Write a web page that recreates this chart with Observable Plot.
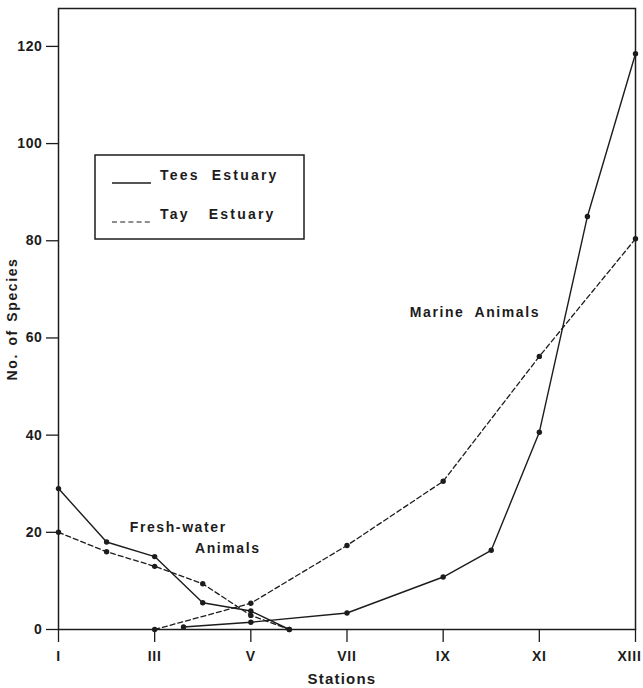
<!DOCTYPE html>
<html><head><meta charset="utf-8">
<script src="https://cdn.jsdelivr.net/npm/d3@7"></script>
<script src="https://cdn.jsdelivr.net/npm/@observablehq/plot@0.6"></script>
<style>
body{margin:0;background:#fff;}
#wrap{position:relative;width:643px;height:688px;}
#wrap svg{display:block;}
#legend{position:absolute;left:0;top:0;pointer-events:none;}
</style></head><body><div id="wrap"></div>
<script>
// ---- data ----
const stationTicks = [1, 3, 5, 7, 9, 11, 13];
const stationLabels = ["I", "III", "V", "VII", "IX", "XI", "XIII"];
const yTicks = [0, 20, 40, 60, 80, 100, 120];
const seriesNames = ["Tees Estuary", "Tay Estuary"];

const teesFreshStations = [1, 2, 3, 4, 5, 5.8];
const teesFreshValues   = [29, 18, 15, 5.5, 3.8, 0];
const tayFreshStations  = [1, 2, 3, 4, 5, 5.8];
const tayFreshValues    = [20, 16, 13, 9.4, 2.9, 0];
const teesMarineStations = [3.6, 5, 7, 9, 10, 11, 12, 13];
const teesMarineValues   = [0.5, 1.5, 3.4, 10.8, 16.3, 40.6, 85, 118.5];
const tayMarineStations  = [3, 5, 7, 9, 11, 13];
const tayMarineValues    = [0, 5.4, 17.3, 30.5, 56.2, 80.4];

const notes = [
  {station: 3.49, value: 21.0, label: "Fresh-water"},
  {station: 4.52, value: 16.7, label: "Animals"},
  {station: 9.66, value: 65.3, label: "Marine Animals"}
];

// ---- build rows ----
function rows(stations, values, series, group) {
  return stations.map((s, i) => ({station: s, value: values[i], series, group}));
}
const tees = [
  ...rows(teesFreshStations, teesFreshValues, seriesNames[0], "fresh"),
  ...rows(teesMarineStations, teesMarineValues, seriesNames[0], "marine")
];
const tay = [
  ...rows(tayFreshStations, tayFreshValues, seriesNames[1], "fresh"),
  ...rows(tayMarineStations, tayMarineValues, seriesNames[1], "marine")
];

const ink = "#1c1c1c";
const font = "'Liberation Sans', Arial, sans-serif";

const chart = Plot.plot({
  width: 643,
  height: 688,
  marginLeft: 58,
  marginRight: 8,
  marginTop: 8,
  marginBottom: 59,
  style: {fontFamily: font, fontSize: "14px", fontWeight: "bold", color: ink, background: "#fff"},
  x: {domain: [1, 13]},
  y: {domain: [0, 127.8]},
  marks: [
    Plot.frame({stroke: ink, strokeWidth: 1.5}),
    Plot.axisX(stationTicks, {tickSize: 13, tickPadding: 9, strokeWidth: 1.3,
      tickFormat: d => stationLabels[stationTicks.indexOf(d)], label: null}),
    Plot.axisY(yTicks, {tickSize: 12, tickPadding: 4, strokeWidth: 1.3, label: null}),
    Plot.line(tees, {x: "station", y: "value", z: "group", stroke: ink, strokeWidth: 1.4}),
    Plot.line(tay, {x: "station", y: "value", z: "group", stroke: ink, strokeWidth: 1.3, strokeDasharray: "5,3"}),
    Plot.dot([...tees, ...tay], {x: "station", y: "value", r: 2.7, fill: ink}),
    Plot.text(notes, {x: "station", y: "value", text: "label", fill: ink, fontSize: 14}),
    Plot.text(["Stations"], {frameAnchor: "bottom", dx: -5, dy: 50, lineAnchor: "middle", textAnchor: "middle", text: d => d, fill: ink, fontSize: 15}),
    Plot.text(["No. of Species"], {frameAnchor: "left", dx: -46, rotate: -90, textAnchor: "middle", lineAnchor: "middle", text: d => d, fill: ink, fontSize: 14})
  ]
});
document.getElementById("wrap").appendChild(chart);

// letter spacing of the lettering (typewriter-like spacing in the original)
const textGroups = d3.select(chart).selectAll('g[aria-label="text"]').nodes();
d3.select(textGroups[0]).selectAll("text").style("letter-spacing", "1.6px").style("word-spacing", "5px");
d3.select(textGroups[1]).selectAll("text").style("letter-spacing", "1.2px");
d3.select(textGroups[2]).selectAll("text").style("letter-spacing", "1.6px").style("word-spacing", "2px");
d3.select(chart).selectAll('g[aria-label="y-axis tick label"] text').style("letter-spacing", "0.6px");
d3.select(chart).selectAll('g[aria-label="x-axis tick label"] text').style("letter-spacing", "0.8px");
// keep the last roman numeral inside the picture
const xLabels = d3.select(chart).selectAll('g[aria-label="x-axis tick label"] text').nodes();
if (xLabels.length) d3.select(xLabels[xLabels.length - 1]).attr("dx", -6);

// ---- legend overlay ----
const lg = d3.select("#wrap").append("svg").attr("id", "legend")
  .attr("width", 643).attr("height", 688)
  .style("font-family", font).style("font-weight", "bold").style("font-size", "14px");
lg.append("rect").attr("x", 95).attr("y", 155).attr("width", 209).attr("height", 84)
  .attr("fill", "#fff").attr("stroke", ink).attr("stroke-width", 1.5);
const entries = [
  {name: seriesNames[0], dash: null, y: 183, ws: "6px"},
  {name: seriesNames[1], dash: "5,3.2", y: 222, ws: "13px"}
];
entries.forEach(e => {
  const ln = lg.append("line").attr("x1", 112).attr("x2", 151).attr("y1", e.y).attr("y2", e.y)
    .attr("stroke", ink).attr("stroke-width", e.dash ? 1 : 1.5);
  if (e.dash) ln.attr("stroke-dasharray", e.dash);
  lg.append("text").attr("x", 160).attr("y", e.y - 3).attr("fill", ink)
    .style("letter-spacing", "2.2px").style("word-spacing", e.ws)
    .text(e.name);
});
</script></body></html>
